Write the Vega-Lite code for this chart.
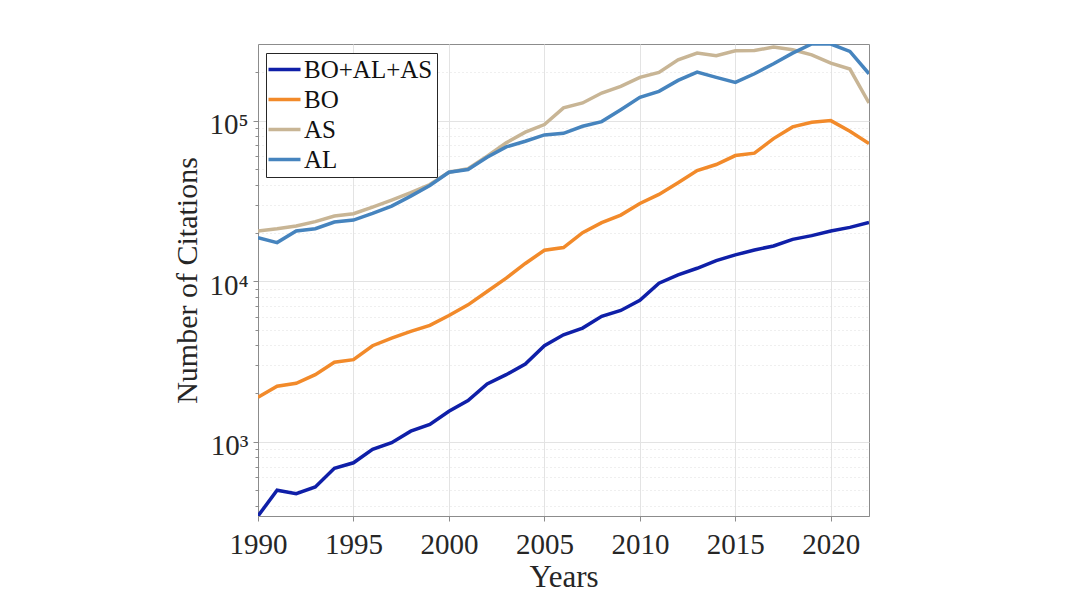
{
  "$schema": "https://vega.github.io/schema/vega-lite/v6.json",
  "autosize": {"type": "none"},
  "padding": {"left": 258, "top": 44, "right": 207, "bottom": 79},
  "width": 611,
  "height": 472,
  "background": "white",
  "config": {
    "font": "Liberation Serif",
    "view": {"stroke": "#8c8c8c", "strokeWidth": 1}
  },
  "data": {
    "values": [
      {"year": 1990, "series": "BO+AL+AS", "value": 345},
      {"year": 1991, "series": "BO+AL+AS", "value": 499},
      {"year": 1992, "series": "BO+AL+AS", "value": 475},
      {"year": 1993, "series": "BO+AL+AS", "value": 523},
      {"year": 1994, "series": "BO+AL+AS", "value": 683},
      {"year": 1995, "series": "BO+AL+AS", "value": 740},
      {"year": 1996, "series": "BO+AL+AS", "value": 896},
      {"year": 1997, "series": "BO+AL+AS", "value": 986},
      {"year": 1998, "series": "BO+AL+AS", "value": 1165},
      {"year": 1999, "series": "BO+AL+AS", "value": 1281},
      {"year": 2000, "series": "BO+AL+AS", "value": 1550},
      {"year": 2001, "series": "BO+AL+AS", "value": 1806},
      {"year": 2002, "series": "BO+AL+AS", "value": 2293},
      {"year": 2003, "series": "BO+AL+AS", "value": 2618},
      {"year": 2004, "series": "BO+AL+AS", "value": 3050},
      {"year": 2005, "series": "BO+AL+AS", "value": 3965},
      {"year": 2006, "series": "BO+AL+AS", "value": 4640},
      {"year": 2007, "series": "BO+AL+AS", "value": 5105},
      {"year": 2008, "series": "BO+AL+AS", "value": 6040},
      {"year": 2009, "series": "BO+AL+AS", "value": 6575},
      {"year": 2010, "series": "BO+AL+AS", "value": 7600},
      {"year": 2011, "series": "BO+AL+AS", "value": 9720},
      {"year": 2012, "series": "BO+AL+AS", "value": 10950},
      {"year": 2013, "series": "BO+AL+AS", "value": 12040},
      {"year": 2014, "series": "BO+AL+AS", "value": 13440},
      {"year": 2015, "series": "BO+AL+AS", "value": 14580},
      {"year": 2016, "series": "BO+AL+AS", "value": 15650},
      {"year": 2017, "series": "BO+AL+AS", "value": 16570},
      {"year": 2018, "series": "BO+AL+AS", "value": 18230},
      {"year": 2019, "series": "BO+AL+AS", "value": 19220},
      {"year": 2020, "series": "BO+AL+AS", "value": 20540},
      {"year": 2021, "series": "BO+AL+AS", "value": 21640},
      {"year": 2022, "series": "BO+AL+AS", "value": 23240},
      {"year": 1990, "series": "BO", "value": 1893},
      {"year": 1991, "series": "BO", "value": 2218},
      {"year": 1992, "series": "BO", "value": 2314},
      {"year": 1993, "series": "BO", "value": 2618},
      {"year": 1994, "series": "BO", "value": 3126},
      {"year": 1995, "series": "BO", "value": 3245},
      {"year": 1996, "series": "BO", "value": 3965},
      {"year": 1997, "series": "BO", "value": 4426},
      {"year": 1998, "series": "BO", "value": 4867},
      {"year": 1999, "series": "BO", "value": 5306},
      {"year": 2000, "series": "BO", "value": 6120},
      {"year": 2001, "series": "BO", "value": 7125},
      {"year": 2002, "series": "BO", "value": 8630},
      {"year": 2003, "series": "BO", "value": 10440},
      {"year": 2004, "series": "BO", "value": 12900},
      {"year": 2005, "series": "BO", "value": 15590},
      {"year": 2006, "series": "BO", "value": 16190},
      {"year": 2007, "series": "BO", "value": 20060},
      {"year": 2008, "series": "BO", "value": 23140},
      {"year": 2009, "series": "BO", "value": 25810},
      {"year": 2010, "series": "BO", "value": 30500},
      {"year": 2011, "series": "BO", "value": 34700},
      {"year": 2012, "series": "BO", "value": 41000},
      {"year": 2013, "series": "BO", "value": 48900},
      {"year": 2014, "series": "BO", "value": 53300},
      {"year": 2015, "series": "BO", "value": 60600},
      {"year": 2016, "series": "BO", "value": 62700},
      {"year": 2017, "series": "BO", "value": 77300},
      {"year": 2018, "series": "BO", "value": 91400},
      {"year": 2019, "series": "BO", "value": 97700},
      {"year": 2020, "series": "BO", "value": 100000},
      {"year": 2021, "series": "BO", "value": 85800},
      {"year": 2022, "series": "BO", "value": 72000},
      {"year": 1990, "series": "AS", "value": 20550},
      {"year": 1991, "series": "AS", "value": 21230},
      {"year": 1992, "series": "AS", "value": 22070},
      {"year": 1993, "series": "AS", "value": 23500},
      {"year": 1994, "series": "AS", "value": 25460},
      {"year": 1995, "series": "AS", "value": 26300},
      {"year": 1996, "series": "AS", "value": 28950},
      {"year": 1997, "series": "AS", "value": 32000},
      {"year": 1998, "series": "AS", "value": 35570},
      {"year": 1999, "series": "AS", "value": 40000},
      {"year": 2000, "series": "AS", "value": 47730},
      {"year": 2001, "series": "AS", "value": 50100},
      {"year": 2002, "series": "AS", "value": 60000},
      {"year": 2003, "series": "AS", "value": 72700},
      {"year": 2004, "series": "AS", "value": 84700},
      {"year": 2005, "series": "AS", "value": 94500},
      {"year": 2006, "series": "AS", "value": 120000},
      {"year": 2007, "series": "AS", "value": 128800},
      {"year": 2008, "series": "AS", "value": 148600},
      {"year": 2009, "series": "AS", "value": 163400},
      {"year": 2010, "series": "AS", "value": 185800},
      {"year": 2011, "series": "AS", "value": 199700},
      {"year": 2012, "series": "AS", "value": 239300},
      {"year": 2013, "series": "AS", "value": 263300},
      {"year": 2014, "series": "AS", "value": 253300},
      {"year": 2015, "series": "AS", "value": 272200},
      {"year": 2016, "series": "AS", "value": 273300},
      {"year": 2017, "series": "AS", "value": 286900},
      {"year": 2018, "series": "AS", "value": 276000},
      {"year": 2019, "series": "AS", "value": 257000},
      {"year": 2020, "series": "AS", "value": 228000},
      {"year": 2021, "series": "AS", "value": 209400},
      {"year": 2022, "series": "AS", "value": 128800},
      {"year": 1990, "series": "AL", "value": 18660},
      {"year": 1991, "series": "AL", "value": 17390},
      {"year": 1992, "series": "AL", "value": 20550},
      {"year": 1993, "series": "AL", "value": 21230},
      {"year": 1994, "series": "AL", "value": 23350},
      {"year": 1995, "series": "AL", "value": 24030},
      {"year": 1996, "series": "AL", "value": 26450},
      {"year": 1997, "series": "AL", "value": 29360},
      {"year": 1998, "series": "AL", "value": 33880},
      {"year": 1999, "series": "AL", "value": 39460},
      {"year": 2000, "series": "AL", "value": 47730},
      {"year": 2001, "series": "AL", "value": 49630},
      {"year": 2002, "series": "AL", "value": 59200},
      {"year": 2003, "series": "AL", "value": 68600},
      {"year": 2004, "series": "AL", "value": 74400},
      {"year": 2005, "series": "AL", "value": 81500},
      {"year": 2006, "series": "AL", "value": 83400},
      {"year": 2007, "series": "AL", "value": 92200},
      {"year": 2008, "series": "AL", "value": 98600},
      {"year": 2009, "series": "AL", "value": 117000},
      {"year": 2010, "series": "AL", "value": 139600},
      {"year": 2011, "series": "AL", "value": 152100},
      {"year": 2012, "series": "AL", "value": 178100},
      {"year": 2013, "series": "AL", "value": 200600},
      {"year": 2014, "series": "AL", "value": 185800},
      {"year": 2015, "series": "AL", "value": 172900},
      {"year": 2016, "series": "AL", "value": 195800},
      {"year": 2017, "series": "AL", "value": 225900},
      {"year": 2018, "series": "AL", "value": 263300},
      {"year": 2019, "series": "AL", "value": 300000},
      {"year": 2020, "series": "AL", "value": 300000},
      {"year": 2021, "series": "AL", "value": 269600},
      {"year": 2022, "series": "AL", "value": 195800}
    ]
  },
  "mark": {"type": "line", "strokeWidth": 3.5, "clip": true},
  "encoding": {
    "x": {
      "field": "year",
      "type": "quantitative",
      "scale": {"domain": [1990, 2022], "nice": false, "zero": false},
      "axis": {
        "title": "Years",
        "values": [1990, 1995, 2000, 2005, 2010, 2015, 2020],
        "format": "d",
        "labelFontSize": 29,
        "labelColor": "#262626",
        "labelPadding": 9,
        "labelFlush": false,
        "labelOverlap": false,
        "titleFontSize": 31,
        "titleFontWeight": "normal",
        "titleColor": "#262626",
        "titlePadding": 3,
        "domainColor": "#8c8c8c",
        "tickColor": "#8c8c8c",
        "tickSize": 5,
        "grid": true,
        "gridColor": "#e3e3e3",
        "gridWidth": 1
      }
    },
    "y": {
      "field": "value",
      "type": "quantitative",
      "scale": {"type": "log", "domain": [345, 300000], "nice": false},
      "axis": {
        "title": "Number of Citations",
        "values": [400, 500, 600, 700, 800, 900, 1000, 2000, 3000, 4000, 5000, 6000, 7000, 8000, 9000, 10000, 20000, 30000, 40000, 50000, 60000, 70000, 80000, 90000, 100000, 200000],
        "labelExpr": "datum.value == 1000 ? '10³' : datum.value == 10000 ? '10⁴' : datum.value == 100000 ? '10⁵' : ''",
        "labelOverlap": false,
        "labelFontSize": 29,
        "labelColor": "#262626",
        "labelPadding": 5,
        "labelOffset": 4,
        "titleFontSize": 30,
        "titleFontWeight": "normal",
        "titleColor": "#262626",
        "titlePadding": 6,
        "domainColor": "#8c8c8c",
        "tickColor": "#8c8c8c",
        "tickSize": {"condition": {"test": "datum.value == 1000 || datum.value == 10000 || datum.value == 100000", "value": 5}, "value": 3},
        "grid": true,
        "gridColor": {"condition": {"test": "datum.value == 1000 || datum.value == 10000 || datum.value == 100000", "value": "#e3e3e3"}, "value": "#dedede"},
        "gridDash": {"condition": {"test": "datum.value == 1000 || datum.value == 10000 || datum.value == 100000", "value": []}, "value": [1, 3]}
      }
    },
    "color": {
      "field": "series",
      "type": "nominal",
      "scale": {
        "domain": ["BO+AL+AS", "BO", "AS", "AL"],
        "range": ["#0f1fa8", "#f28a2a", "#c8b595", "#4684be"]
      },
      "legend": {
        "title": null,
        "orient": "none",
        "legendX": 8,
        "legendY": 9,
        "symbolType": "M-1.6,0H1.6",
        "symbolSize": 400,
        "symbolOffset": 2,
        "symbolStrokeWidth": 3.5,
        "symbolFillColor": "transparent",
        "labelFontSize": 25,
        "labelColor": "#111111",
        "labelOffset": 7,
        "rowPadding": 4,
        "padding": 4,
        "strokeColor": "#262626",
        "fillColor": "white",
        "cornerRadius": 0
      }
    }
  }
}
